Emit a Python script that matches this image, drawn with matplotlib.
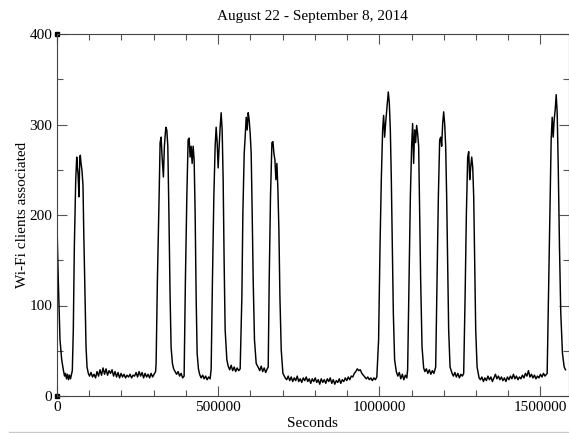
import matplotlib
matplotlib.use("Agg")
import matplotlib.pyplot as plt
from matplotlib.lines import Line2D
from matplotlib.ticker import MultipleLocator, FuncFormatter

# readings taken off the original plot (seconds since start, associated clients)
seconds = [
    # start + Friday Aug 22
    0, 4000, 9300, 14600, 19600, 23300, 26400, 29500, 32600, 35700, 38800, 41900, 45000,
    47500, 50600, 53800, 58100, 61200, 63100, 65200, 68300, 70500, 72400, 74500, 77600,
    80700, 82900, 87000, 90100, 93200, 97200,
    # weekend
    100900, 105600, 110200, 114900, 119600, 124200, 128900, 133500, 138200, 142900,
    147500, 152200, 156800, 161500, 166100, 170800, 175500, 180100, 184800, 189400,
    194100, 198800, 203400, 208100, 212700, 217400, 222100, 226700, 231400, 236000,
    240700, 245300, 250000, 254700, 259300, 264000, 268600, 273300, 278000, 282600,
    287300, 291900, 296600, 301200, 305900,
    # Monday
    307500, 311500, 316800, 319900, 323000, 326100, 330100, 333200, 337600, 340700,
    343800, 346900, 350900, 354000, 358100, 361800, 366500, 371100, 375800, 380400,
    385100, 389700, 394400,
    # Tuesday
    398400, 402800, 406800, 409900, 413000, 416200, 419300, 422400, 425500, 428600,
    431700, 434800, 438800, 442500, 447200, 451900, 456500, 461200, 465800, 470500,
    475200, 478300,
    # Wednesday
    482300, 486600, 490700, 493800, 496900, 500000, 503100, 506200, 509300, 512400,
    515500, 518600, 521700, 527000, 531100, 535700, 540400, 545000, 549700, 554300,
    559000, 563700, 568300,
    # Thursday
    573600, 576700, 580800, 583800, 587000, 590100, 593200, 596300, 599400, 602500,
    605600, 608700, 612700, 618000, 625200, 628900, 633500, 638200, 642800, 647500,
    652200,
    # Friday
    655300, 658400, 662400, 666800, 669900, 673000, 676100, 679200, 682300, 685400,
    688500, 691600, 695700, 700900, 708100,
    # long weekend (Labor Day)
    712700, 717400, 722000, 726700, 731300, 736000, 740700, 745300, 750000, 754700,
    759300, 764000, 768600, 773300, 777900, 782600, 787300, 791900, 796600, 801200,
    805900, 810600, 815200, 819900, 824500, 829200, 833900, 838500, 843200, 847800,
    852500, 857100, 861800, 866500, 871100, 875800, 880400, 885100, 889800, 894400,
    899100, 903700, 908400, 913100, 917700, 922400, 927000, 931700, 936400, 941000,
    945700, 950300, 955000, 959700, 964300, 969000, 973600, 978300, 983000, 987600,
    992300,
    # Tuesday
    997800, 1002200, 1006200, 1010300, 1013400, 1016500, 1019500, 1023900, 1027900,
    1031000, 1034200, 1037300, 1040300, 1043500, 1047500, 1052800, 1057400, 1062100,
    1066700, 1071400, 1076100, 1080700, 1085400,
    # Wednesday
    1087900, 1092200, 1096300, 1100300, 1103400, 1106500, 1109600, 1112700, 1115800,
    1118900, 1122100, 1125200, 1128300, 1132600, 1137600, 1141300, 1146000, 1150600,
    1155300, 1159900, 1164600, 1169300,
    # Thursday
    1174900, 1179200, 1183200, 1187300, 1190400, 1193500, 1196600, 1199700, 1202800,
    1205900, 1209000, 1212100, 1215200, 1219500, 1225800, 1229800, 1234500, 1239100,
    1243800, 1248500, 1253100, 1257800,
    # Friday
    1261800, 1266200, 1270200, 1274200, 1277400, 1280500, 1283600, 1286700, 1289800,
    1292900, 1296000, 1299100, 1303400, 1309600,
    # weekend
    1313700, 1318300, 1323000, 1327600, 1332300, 1337000, 1341600, 1346300, 1350900,
    1355600, 1360300, 1364900, 1369600, 1374200, 1378900, 1383600, 1388200, 1392900,
    1397500, 1402200, 1406800, 1411500, 1416200, 1420800, 1425500, 1430100, 1434800,
    1439400, 1444100, 1448800, 1453400, 1458100, 1462700, 1467400, 1472100, 1476700,
    1481400, 1486000, 1490700, 1495300, 1500000, 1504700, 1509300, 1514000,
    # Monday Sep 8
    1520800, 1524800, 1528900, 1533200, 1536400, 1539500, 1542500, 1545700, 1548800,
    1551900, 1555000, 1559000, 1563000, 1568300, 1573600, 1577700,
]

clients = [
    190, 128, 62, 40, 29, 22, 25, 19, 24, 18, 23, 19, 24,
    28, 73, 165, 239, 264, 253, 246, 220, 262, 266, 257, 249,
    232, 183, 110, 54, 32, 25,
    22, 26, 21, 24, 20, 27, 22, 29, 23, 31,
    24, 30, 23, 28, 25, 29, 22, 27, 21, 26,
    20, 25, 21, 24, 20, 23, 21, 24, 20, 23,
    22, 26, 21, 27, 22, 26, 20, 25, 21, 24,
    20, 25, 21, 24, 27,
    36, 128, 220, 280, 286, 264, 242, 276, 297, 294,
    276, 209, 110, 54, 36, 30, 27, 24, 27, 22,
    25, 20, 22,
    128, 220, 283, 285, 264, 276, 257, 276, 261, 202,
    110, 47, 30, 24, 20, 23, 19, 22, 18, 21,
    19, 30,
    128, 220, 276, 297, 280, 252, 276, 297, 313, 294,
    239, 147, 73, 40, 33, 29, 34, 28, 32, 27,
    31, 28, 30,
    110, 202, 268, 286, 308, 294, 313, 305, 290, 268,
    202, 128, 62, 36, 31, 28, 33, 27, 31, 26,
    30,
    32, 128, 220, 280, 281, 268, 261, 239, 257, 228,
    183, 110, 51, 25, 20,
    18, 22, 17, 21, 16, 20, 17, 22, 16, 19,
    15, 20, 17, 21, 16, 19, 14, 19, 16, 20,
    15, 18, 13, 19, 15, 18, 14, 19, 16, 20,
    14, 18, 13, 17, 15, 19, 14, 18, 16, 20,
    17, 21, 18, 22, 21, 25, 27, 30, 28, 29,
    25, 23, 21, 19, 21, 18, 20, 17, 20, 18,
    21,
    62, 165, 239, 294, 310, 286, 301, 320, 336,
    324, 294, 239, 165, 92, 40, 27, 22, 26,
    19, 24, 18, 23, 20,
    29, 128, 220, 276, 301, 257, 294, 280, 299,
    290, 276, 202, 128, 54, 31, 27, 30, 25,
    29, 24, 28, 25,
    32, 128, 220, 283, 286, 276, 301, 314, 301,
    276, 220, 147, 73, 32, 25, 22, 26, 21,
    25, 20, 24, 22,
    25, 110, 202, 264, 270, 239, 253, 264, 253,
    220, 147, 73, 32, 20,
    18, 21, 16, 20, 17, 22, 18, 21, 16,
    20, 24, 19, 22, 18, 21, 17, 20, 16,
    21, 18, 22, 19, 24, 19, 22, 18, 21,
    19, 23, 20, 25, 22, 28, 21, 24, 20,
    23, 19, 22, 20, 24, 21, 25, 22,
    25, 110, 202, 283, 308, 286, 305, 316, 333,
    313, 257, 165, 92, 47, 32, 29,
]

title = "August 22 - September 8, 2014"
x_label = "Seconds"
y_label = "Wi-Fi clients associated"

plt.rcParams["font.family"] = ["Liberation Serif", "DejaVu Serif"]

fig = plt.figure(figsize=(5.69, 4.33), dpi=100)
ax = fig.add_axes([57 / 569, 37 / 433, 511.5 / 569, 362 / 433])

ax.plot(seconds, clients, color="black", linewidth=1.05)

# axis ranges and ticks (xmgrace look: ticks inside on all four sides)
ax.set_xlim(0, 1587000)
ax.set_ylim(0, 400)
ax.xaxis.set_major_locator(MultipleLocator(500000))
ax.xaxis.set_minor_locator(MultipleLocator(100000))
ax.yaxis.set_major_locator(MultipleLocator(100))
ax.yaxis.set_minor_locator(MultipleLocator(50))
ax.xaxis.set_major_formatter(FuncFormatter(lambda v, pos: "%d" % v))
ax.tick_params(which="both", direction="in", top=True, right=True,
               color="#555555", width=0.8, labelsize=11, pad=3.5)
ax.tick_params(which="major", length=7.5)
ax.tick_params(which="minor", length=4.3)
for spine in ax.spines.values():
    spine.set_color("#444444")
    spine.set_linewidth(0.8)

# small corner markers at the axis origin and top
ax.plot([0, 0], [0, 1], "s", color="black", markersize=3,
        transform=ax.transAxes, clip_on=False)

ax.set_title(title, fontsize=11, pad=10)
ax.set_xlabel(x_label, fontsize=11, labelpad=2)
ax.set_ylabel(y_label, fontsize=11, labelpad=0.5)

# faint page rule below the chart
fig.add_artist(Line2D([9 / 569, 1], [1.2 / 433, 1.2 / 433], transform=fig.transFigure,
                      color="#c8c8c8", linewidth=1))

fig.savefig("out.png", dpi=100)
